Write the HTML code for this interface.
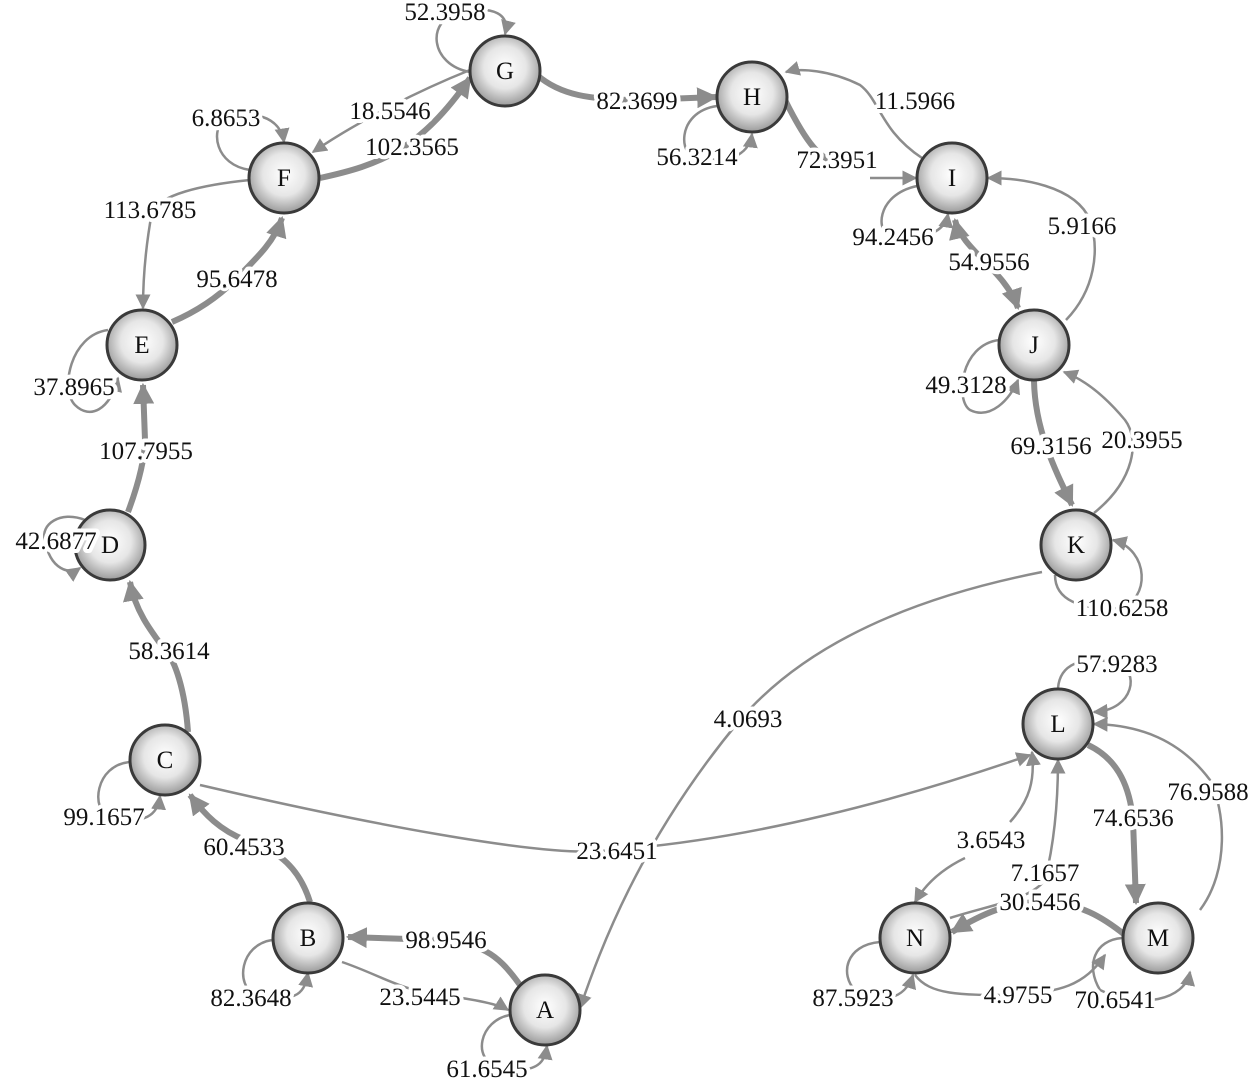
<!DOCTYPE html>
<html><head><meta charset="utf-8"><style>
html,body{margin:0;padding:0;background:#fff;}
svg{display:block;}
.e{fill:none;stroke:#8c8c8c;stroke-width:2.5;}
.t{stroke-width:6;}
text{font-family:"Liberation Serif",serif;font-size:25px;fill:#111;}
.l{text-anchor:middle;paint-order:stroke;stroke:#fff;stroke-width:8px;stroke-linejoin:round;}
.n{text-anchor:middle;font-size:25px;}
</style></head><body>
<svg width="1248" height="1080" viewBox="0 0 1248 1080" xmlns="http://www.w3.org/2000/svg">
<defs>
<marker id="a" viewBox="0 0 10 10" refX="9" refY="5" markerWidth="6" markerHeight="6" orient="auto-start-reverse" markerUnits="strokeWidth"><path d="M0,0 L10,5 L0,10 z" fill="#8c8c8c"/></marker>
<marker id="b" viewBox="0 0 10 10" refX="9" refY="5" markerWidth="3.5" markerHeight="3.5" orient="auto-start-reverse" markerUnits="strokeWidth"><path d="M0,0 L10,5 L0,10 z" fill="#8c8c8c"/></marker>
<radialGradient id="g" cx="50%" cy="45%" r="55%"><stop offset="0" stop-color="#fff"/><stop offset="0.55" stop-color="#e6e6e6"/><stop offset="1" stop-color="#9a9a9a"/></radialGradient>
</defs>
<g>
<path class="e" d="M470,72 C430,65 425,20 460,12 C495,5 510,15 505,34" marker-end="url(#a)"/>
<path class="e" d="M470,70 C420,90 360,120 313,152" marker-end="url(#a)"/>
<path class="e t" d="M320,178 C380,165 420,150 470,78" marker-end="url(#b)"/>
<path class="e t" d="M537,75 C560,95 590,100 640,100 L716,97" marker-end="url(#b)"/>
<path class="e" d="M717,106 C675,112 678,160 700,158 C735,165 750,150 752,134" marker-end="url(#a)"/>
<path class="e" d="M922,158 C880,130 880,100 860,85 C830,70 800,68 786,72" marker-end="url(#a)"/>
<path class="e t" d="M785,100 C800,130 815,155 830,160"/>
<path class="e" d="M870,178 L916,178" marker-end="url(#a)"/>
<path class="e" d="M917,186 C875,195 875,235 893,237 C925,240 945,232 948,214" marker-end="url(#a)"/>
<path class="e t" d="M955,220 C962,250 1005,270 1018,308" marker-end="url(#b)" marker-start="url(#b)"/>
<path class="e" d="M1066,320 C1095,290 1100,250 1090,220 C1075,185 1020,178 988,178" marker-end="url(#a)"/>
<path class="e" d="M999,340 C960,345 955,400 970,410 C990,420 1010,400 1018,380" marker-end="url(#a)"/>
<path class="e t" d="M1034,381 C1035,430 1055,470 1072,505" marker-end="url(#b)"/>
<path class="e" d="M1094,513 C1135,480 1140,440 1125,420 C1100,390 1080,378 1064,372" marker-end="url(#a)"/>
<path class="e" d="M1055,575 C1055,600 1080,610 1120,608 C1150,600 1150,550 1113,540" marker-end="url(#a)"/>
<path class="e" d="M1042,572 C900,600 800,650 740,720 C640,840 600,950 580,1008" marker-end="url(#a)"/>
<path class="e" d="M200,785 C350,820 550,860 610,850 C750,840 900,800 1030,755" marker-end="url(#a)"/>
<path class="e" d="M1058,688 C1060,665 1080,655 1117,663 C1140,670 1135,710 1094,712" marker-end="url(#a)"/>
<path class="e t" d="M1088,745 C1120,760 1130,790 1133,820 L1136,903" marker-end="url(#b)"/>
<path class="e" d="M1200,910 C1230,870 1225,810 1210,780 C1180,740 1140,725 1094,724" marker-end="url(#a)"/>
<path class="e" d="M1010,822 C1030,800 1035,780 1032,752" marker-end="url(#a)"/>
<path class="e" d="M965,858 C940,870 925,885 915,902" marker-end="url(#a)"/>
<path class="e" d="M950,918 C990,905 1030,900 1045,880 C1055,840 1058,800 1058,760" marker-end="url(#a)"/>
<path class="e t" d="M1125,935 C1100,915 1080,905 1050,902 C1010,900 980,915 952,932" marker-end="url(#b)"/>
<path class="e" d="M915,975 C930,995 960,995 1010,995 C1060,993 1085,985 1105,955" marker-end="url(#a)"/>
<path class="e" d="M1122,938 C1095,940 1085,965 1100,990 C1140,1010 1185,1000 1190,972" marker-end="url(#a)"/>
<path class="e" d="M880,942 C845,945 840,975 855,990 C880,1005 905,1000 913,975" marker-end="url(#a)"/>
<path class="e" d="M342,962 C380,975 400,990 440,995 C480,1000 500,1005 508,1010" marker-end="url(#a)"/>
<path class="e t" d="M520,985 C495,950 480,945 440,940 L348,937" marker-end="url(#b)"/>
<path class="e" d="M510,1015 C480,1020 470,1060 500,1068 C540,1075 545,1060 547,1046" marker-end="url(#a)"/>
<path class="e" d="M272,940 C240,945 235,985 255,995 C300,1005 305,990 308,973" marker-end="url(#a)"/>
<path class="e t" d="M310,902 C300,870 280,850 245,840 C220,830 205,815 190,795" marker-end="url(#b)"/>
<path class="e" d="M130,762 C95,765 90,810 110,818 C145,825 158,815 160,796" marker-end="url(#a)"/>
<path class="e t" d="M188,732 C185,690 175,660 165,650 C150,630 135,610 130,582" marker-end="url(#b)"/>
<path class="e" d="M85,520 C60,510 40,525 45,540 C50,570 70,575 80,568" marker-end="url(#a)"/>
<path class="e t" d="M128,512 C140,480 145,455 145,440 L143,385" marker-end="url(#b)"/>
<path class="e" d="M108,330 C70,335 60,390 75,405 C90,420 110,410 118,378" marker-end="url(#a)"/>
<path class="e t" d="M172,322 C200,310 220,295 235,280 C260,255 275,240 282,218" marker-end="url(#b)"/>
<path class="e" d="M250,180 C200,185 160,195 152,212 C145,250 143,280 143,308" marker-end="url(#a)"/>
<path class="e" d="M250,170 C215,165 210,130 225,118 C250,110 280,115 284,142" marker-end="url(#a)"/>
</g>
<g>
<text class="l" x="445" y="20">52.3958</text>
<text class="l" x="390" y="119">18.5546</text>
<text class="l" x="412" y="155">102.3565</text>
<text class="l" x="637" y="109">82.3699</text>
<text class="l" x="697" y="165">56.3214</text>
<text class="l" x="915" y="109">11.5966</text>
<text class="l" x="837" y="168">72.3951</text>
<text class="l" x="893" y="245">94.2456</text>
<text class="l" x="989" y="270">54.9556</text>
<text class="l" x="1082" y="234">5.9166</text>
<text class="l" x="966" y="393">49.3128</text>
<text class="l" x="1051" y="454">69.3156</text>
<text class="l" x="1142" y="448">20.3955</text>
<text class="l" x="1122" y="616">110.6258</text>
<text class="l" x="748" y="727">4.0693</text>
<text class="l" x="617" y="859">23.6451</text>
<text class="l" x="1117" y="672">57.9283</text>
<text class="l" x="1133" y="826">74.6536</text>
<text class="l" x="1208" y="800">76.9588</text>
<text class="l" x="991" y="848">3.6543</text>
<text class="l" x="1045" y="881">7.1657</text>
<text class="l" x="1040" y="910">30.5456</text>
<text class="l" x="1018" y="1003">4.9755</text>
<text class="l" x="1115" y="1008">70.6541</text>
<text class="l" x="853" y="1006">87.5923</text>
<text class="l" x="420" y="1005">23.5445</text>
<text class="l" x="446" y="948">98.9546</text>
<text class="l" x="487" y="1077">61.6545</text>
<text class="l" x="251" y="1006">82.3648</text>
<text class="l" x="244" y="855">60.4533</text>
<text class="l" x="104" y="825">99.1657</text>
<text class="l" x="169" y="659">58.3614</text>
<text class="l" x="146" y="459">107.7955</text>
<text class="l" x="74" y="395">37.8965</text>
<text class="l" x="237" y="287">95.6478</text>
<text class="l" x="150" y="218">113.6785</text>
<text class="l" x="226" y="126">6.8653</text>
</g>
<g stroke="#3a3a3a" stroke-width="3" fill="url(#g)">
<circle cx="505" cy="71" r="35"/><circle cx="752" cy="97" r="35"/><circle cx="952" cy="178" r="35"/>
<circle cx="1034" cy="345" r="35"/><circle cx="1076" cy="545" r="35"/><circle cx="1058" cy="724" r="35"/>
<circle cx="1158" cy="938" r="35"/><circle cx="915" cy="938" r="35"/><circle cx="545" cy="1010" r="35"/>
<circle cx="308" cy="938" r="35"/><circle cx="165" cy="760" r="35"/><circle cx="110" cy="545" r="35"/>
<circle cx="142" cy="345" r="35"/><circle cx="284" cy="178" r="35"/>
</g>
<g>
<text class="n" x="505" y="79">G</text><text class="n" x="752" y="105">H</text><text class="n" x="952" y="186">I</text>
<text class="n" x="1034" y="353">J</text><text class="n" x="1076" y="553">K</text><text class="n" x="1058" y="732">L</text>
<text class="n" x="1158" y="946">M</text><text class="n" x="915" y="946">N</text><text class="n" x="545" y="1018">A</text>
<text class="n" x="308" y="946">B</text><text class="n" x="165" y="768">C</text><text class="n" x="110" y="553">D</text>
<text class="n" x="142" y="353">E</text><text class="n" x="284" y="186">F</text>
<text class="l" x="56" y="549">42.6877</text>
</g>
</svg>
</body></html>
